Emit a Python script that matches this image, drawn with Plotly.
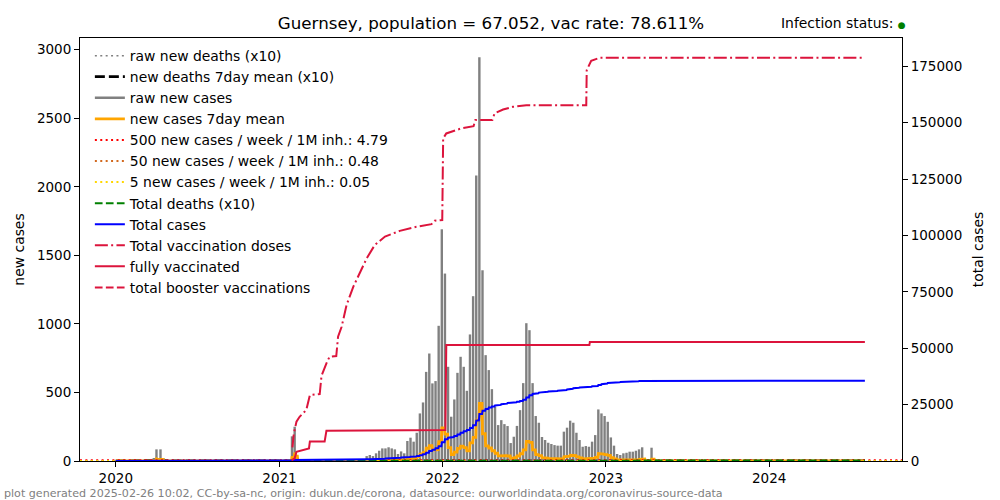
import pandas as pd
import plotly.graph_objects as go

#---DATA---
country = 'Guernsey'
population = 67052
vac_rate = 78.611
data_end = '2024-08-02'
x_range = ['2019-10-13', '2024-10-24']

# new cases, early irregular reports
early_case_dates = ['2020-03-21', '2020-03-26', '2020-04-01', '2020-04-10', '2020-04-17', '2020-04-24',
                    '2021-01-29', '2021-02-04', '2021-02-11']
early_cases = [15, 22, 85, 85, 20, 10, 180, 250, 25]

# new cases, weekly reports from mid 2021
weekly_start = '2021-07-15'
weekly_cases = [36, 44, 36, 56, 75, 92, 92, 100, 92, 85, 51, 70, 56, 146, 170, 141, 206,
                347, 427, 650, 784, 566, 583, 986, 1690, 1367, 687, 323, 449, 643, 760, 687,
                512, 923, 1202, 2083, 2945, 1391, 772, 663, 524, 395, 262, 298, 269, 255, 131,
                177, 256, 371, 568, 1005, 954, 568, 328, 279, 175, 153, 133, 124, 116, 112, 112,
                214, 243, 294, 279, 206, 153, 104, 109, 104, 141, 189, 376, 347, 328, 286, 172,
                112, 51, 44, 56, 60, 68, 68, 75, 85, 100, 0, 0, 97]

# new deaths
death_dates = ['2020-03-30', '2020-04-06', '2020-04-13', '2020-04-20', '2020-04-27', '2021-02-08',
               '2022-01-10', '2022-03-28', '2022-04-11', '2022-07-18', '2023-01-09']
new_deaths = [2, 3, 4, 3, 1, 1, 2, 3, 2, 2, 1]

# total vaccination doses
vac_dates = ['2021-01-30', '2021-02-02', '2021-02-08', '2021-02-15', '2021-03-02', '2021-03-10',
             '2021-04-01', '2021-04-05', '2021-04-16', '2021-04-23', '2021-05-08', '2021-05-12',
             '2021-05-20', '2021-05-31', '2021-06-15', '2021-06-30', '2021-07-15', '2021-08-02',
             '2021-08-25', '2021-09-27', '2021-11-03', '2021-12-07', '2021-12-14', '2021-12-31',
             '2022-01-02', '2022-01-09', '2022-02-11', '2022-03-11', '2022-03-15', '2022-04-22',
             '2022-04-27', '2022-05-16', '2022-06-07', '2022-07-07', '2022-11-18', '2022-11-19',
             '2022-11-29', '2022-12-18', data_end]
vac_doses = [6000, 12000, 17400, 19600, 22600, 29200, 29700, 37700, 43300, 46200, 46500, 55100,
             59500, 69100, 77200, 83900, 89800, 95700, 99500, 102000, 103800, 105000, 106500, 106800,
             143000, 145200, 147400, 148400, 151100, 151100, 154100, 155800, 157000, 157700, 157700,
             173200, 177400, 178700, 178800]

# fully vaccinated
full_dates = ['2021-01-28', '2021-02-04', '2021-02-08', '2021-03-08', '2021-03-10', '2021-04-12',
              '2021-04-16', '2022-01-07', '2022-01-09', '2022-11-25', '2022-11-26', data_end]
full_vacc = [300, 1200, 4100, 5600, 8600, 8600, 13400, 13700, 51400, 51400, 52710, 52710]

#---PREPARE---
days = pd.date_range('2020-01-01', data_end, freq='D')
cases = pd.Series(0.0, index=days)
for d, v in zip(early_case_dates, early_cases):
    cases[pd.Timestamp(d)] += v
weekly_dates = pd.date_range(weekly_start, periods=len(weekly_cases), freq='7D')
for d, v in zip(weekly_dates, weekly_cases):
    cases[d] += v
cases_mean = cases.rolling(7, min_periods=1).mean()
cases_total = cases.cumsum()

deaths = pd.Series(0.0, index=days)
for d, v in zip(death_dates, new_deaths):
    deaths[pd.Timestamp(d)] += v
deaths_mean = deaths.rolling(7, min_periods=1).mean()
deaths_total = deaths.cumsum()

#bars as vertical line segments
reported = cases[cases > 0]
bar_x, bar_y = [], []
for d, v in reported.items():
    bar_x += [d, d, None]
    bar_y += [0, v, None]

dd = deaths[deaths > 0]
dbar_x, dbar_y = [], []
for d, v in dd.items():
    dbar_x += [d, d, None]
    dbar_y += [0, v * 10, None]

thresholds = [(500, 'red'), (50, 'chocolate'), (5, 'gold')]

#matplotlib-like dash patterns
DOT = '2px,3.4px'
DASH = '7.7px,3.3px'
DASHDOT = '13px,3.3px,2px,3.3px'

#---PLOT---
fig = go.Figure()
fig.add_trace(go.Scatter(x=dbar_x, y=dbar_y, name='raw new deaths (x10)', mode='lines',
                         line=dict(color='gray', width=1.5, dash=DOT)))
fig.add_trace(go.Scatter(x=days, y=deaths_mean * 10, name='new deaths 7day mean (x10)', mode='lines',
                         line=dict(color='black', width=2.8, dash='10px,4px')))
fig.add_trace(go.Scatter(x=bar_x, y=bar_y, name='raw new cases', mode='lines',
                         line=dict(color='gray', width=2.4)))
fig.add_trace(go.Scatter(x=days, y=cases_mean, name='new cases 7day mean', mode='lines',
                         line=dict(color='orange', width=2.8)))
for n, c in thresholds:
    lvl = n * population / 1e6 / 7
    fig.add_trace(go.Scatter(x=x_range, y=[lvl, lvl], mode='lines',
                             name='%d new cases / week / 1M inh.: %.2f' % (n, lvl),
                             line=dict(color=c, width=2, dash=DOT)))
fig.add_trace(go.Scatter(x=days, y=deaths_total * 10, name='Total deaths (x10)', mode='lines', yaxis='y2',
                         line=dict(color='green', width=2, dash=DASH)))
fig.add_trace(go.Scatter(x=days, y=cases_total, name='Total cases', mode='lines', yaxis='y2',
                         line=dict(color='blue', width=2)))
fig.add_trace(go.Scatter(x=vac_dates, y=vac_doses, name='Total vaccination doses', mode='lines', yaxis='y2',
                         line=dict(color='crimson', width=2, dash=DASHDOT)))
fig.add_trace(go.Scatter(x=full_dates, y=full_vacc, name='fully vaccinated', mode='lines', yaxis='y2',
                         line=dict(color='crimson', width=2)))
fig.add_trace(go.Scatter(x=[data_end], y=[None], name='total booster vaccinations', mode='lines', yaxis='y2',
                         line=dict(color='crimson', width=2, dash=DASH)))

#---STYLE---
fs = 13.9
fig.update_layout(
    width=1000, height=500,
    margin=dict(l=80, r=98, t=38, b=39),
    plot_bgcolor='white', paper_bgcolor='white',
    font=dict(family='DejaVu Sans', size=fs, color='black'),
    title=dict(text='%s, population = %.3f, vac rate: %.3f%%' % (country, population / 1000, vac_rate),
               x=0.5, xref='paper', y=1 - 23 / 500, yanchor='middle', font=dict(size=16.7)),
    legend=dict(x=0.012, y=0.995, xanchor='left', yanchor='top', bgcolor='rgba(0,0,0,0)',
                font=dict(size=fs), tracegroupgap=5),
    showlegend=True)

fig.update_xaxes(type='date', range=x_range,
                 tickvals=['2020-01-01', '2021-01-01', '2022-01-01', '2023-01-01', '2024-01-01'],
                 ticktext=['2020', '2021', '2022', '2023', '2024'],
                 ticks='outside', ticklen=5, tickcolor='black', tickfont=dict(size=13.5),
                 showline=True, linecolor='black', linewidth=1, mirror=True,
                 showgrid=False, zeroline=False)
fig.update_layout(
    yaxis=dict(range=[0, 3085], tickvals=[0, 500, 1000, 1500, 2000, 2500, 3000],
               ticks='outside', ticklen=5, tickcolor='black', tickfont=dict(size=13.5),
               showline=True, linecolor='black', showgrid=False, zeroline=False, automargin=False,
               title=dict(text='new cases', standoff=9, font=dict(size=fs))),
    yaxis2=dict(range=[0, 187500], dtick=25000, tickformat='d', overlaying='y', side='right',
                ticks='outside', ticklen=5, tickcolor='black', tickfont=dict(size=13.5),
                showline=True, linecolor='black', showgrid=False, zeroline=False, automargin=False,
                title=dict(text='total cases', standoff=12, font=dict(size=fs))))

fig.add_annotation(xref='paper', yref='paper', x=1.007, y=1.035, xanchor='right', yanchor='middle',
                   text="Infection status: <span style='color:green;font-size:9px'>●</span>",
                   showarrow=False, font=dict(size=fs))
fig.add_annotation(xref='paper', yref='paper', x=-0.095, y=-0.077, xanchor='left', yanchor='middle',
                   text='plot generated 2025-02-26 10:02, CC-by-sa-nc, origin: dukun.de/corona, '
                        'datasource: ourworldindata.org/coronavirus-source-data',
                   showarrow=False, font=dict(size=11.1, color='gray'))

fig.write_html('out.html', config={'displayModeBar': False},
               post_script="document.body.style.margin='0px';")
